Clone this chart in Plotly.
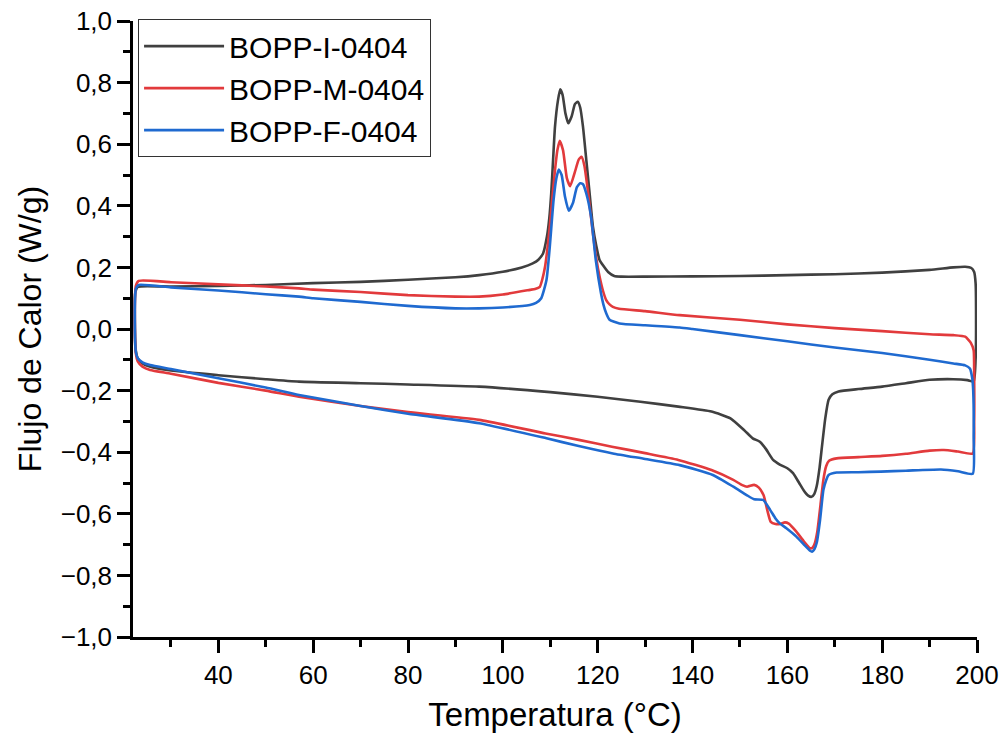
import plotly.graph_objects as go

# ---------------- data ----------------
names = ["BOPP-I-0404", "BOPP-M-0404", "BOPP-F-0404"]
colors = ["#404040", "#e23a3c", "#1f6ad0"]

temp_I = [23.0, 22.5, 22.4, 22.6, 23.0, 24.0, 25.5, 30, 40, 50, 57, 70, 80, 95, 110, 120, 129, 137, 144,
          148, 151, 152.7, 154.2, 155.5, 157, 158.4, 160, 161.2, 162.5, 163.5, 164.4, 165.1, 165.7, 166.2,
          166.8, 167.3, 168.0, 168.7, 169.5, 170.8, 175, 180, 185, 190, 195, 198, 199.3, 199.7, 199.8,
          199.7, 199.4, 198.8, 197.5, 195, 190, 180, 170, 160, 150, 140, 130, 125, 123.5, 122.2, 121.2,
          120.4, 119.7, 119, 118.3, 117.6, 116.9, 116.3, 115.8, 115.2, 114.5, 113.8, 113.2, 112.6, 112.1,
          111.6, 111, 110.6, 110.2, 109.8, 109.3, 108.5, 107.5, 106.3, 104, 100, 95, 90, 80, 70, 60, 50,
          40, 30, 23]
flow_I = [0.137, 0.12, 0.0, -0.07, -0.095, -0.112, -0.122, -0.135, -0.15, -0.163, -0.171, -0.176, -0.18,
          -0.187, -0.205, -0.22, -0.236, -0.252, -0.268, -0.29, -0.33, -0.355, -0.366, -0.39, -0.425,
          -0.44, -0.452, -0.468, -0.5, -0.525, -0.541, -0.545, -0.535, -0.51, -0.45, -0.382, -0.29, -0.23,
          -0.212, -0.203, -0.195, -0.187, -0.176, -0.165, -0.163, -0.166, -0.17, -0.1, 0.05, 0.15, 0.185,
          0.198, 0.202, 0.2, 0.192, 0.183, 0.178, 0.175, 0.172, 0.171, 0.17, 0.17, 0.172, 0.185, 0.205,
          0.224, 0.27, 0.332, 0.44, 0.549, 0.657, 0.72, 0.738, 0.73, 0.69, 0.668, 0.7, 0.76, 0.778, 0.74,
          0.657, 0.55, 0.44, 0.36, 0.3, 0.246, 0.225, 0.213, 0.2, 0.186, 0.175, 0.168, 0.16, 0.153, 0.149,
          0.143, 0.14, 0.138, 0.137]

temp_M = [23.2, 22.6, 22.4, 22.6, 23.0, 24.0, 25.6, 30, 40, 50, 57, 70, 80, 95, 109, 116, 123, 130, 137,
          144, 148.6, 150.5, 151.5, 153, 154, 155, 155.8, 156.5, 157.5, 158.5, 159.5, 160.3, 161.9, 163.5,
          164.8, 165.3, 165.8, 166.3, 167, 167.6, 168.2, 168.8, 170.4, 175, 180, 185, 190, 193, 196, 199.1,
          199.4, 199.4, 199.3, 198.7, 197.5, 195, 190, 180, 170, 160, 150, 137.3, 130, 124.5, 123.2,
          122.5, 121.8, 121.1, 120.4, 119.7, 119, 118, 117.2, 116.6, 116, 115.2, 114.2, 113.5, 112.7,
          112, 111.5, 111, 110.4, 109.9, 109.4, 108.9, 108.3, 107.8, 106.8, 105.7, 100, 95, 90, 80, 70,
          60, 57, 50, 40, 30, 23.2]
flow_M = [0.156, 0.14, 0.0, -0.08, -0.105, -0.122, -0.133, -0.145, -0.175, -0.2, -0.22, -0.25, -0.27,
          -0.295, -0.339, -0.36, -0.382, -0.403, -0.425, -0.458, -0.49, -0.507, -0.512, -0.506, -0.515,
          -0.54, -0.59, -0.626, -0.633, -0.633, -0.628, -0.632, -0.658, -0.69, -0.712, -0.71, -0.695,
          -0.66, -0.57, -0.49, -0.445, -0.428, -0.42, -0.416, -0.412, -0.405, -0.395, -0.393, -0.398,
          -0.404, -0.3, -0.15, -0.07, -0.045, -0.025, -0.02, -0.017, -0.007, 0.003, 0.015, 0.03, 0.045,
          0.058, 0.066, 0.072, 0.08, 0.094, 0.125, 0.17, 0.23, 0.31, 0.44, 0.53, 0.559, 0.55, 0.51, 0.464,
          0.49, 0.58, 0.611, 0.58, 0.516, 0.42, 0.332, 0.26, 0.202, 0.16, 0.137, 0.13, 0.127, 0.112, 0.105,
          0.105, 0.11, 0.12, 0.128, 0.132, 0.138, 0.145, 0.152, 0.156]

temp_F = [23.2, 22.6, 22.4, 22.6, 23.0, 24.0, 25.6, 30, 40, 50, 57, 70, 80, 95, 109.2, 116, 123.2, 130,
          137.3, 144.3, 148.6, 151.4, 153, 154.9, 156.4, 157.5, 158.4, 159.8, 161.9, 163.5, 164.8, 165.2,
          165.7, 166.2, 166.9, 167.6, 168.2, 168.7, 170.4, 175, 179.7, 185, 192.4, 196, 199.1, 199.3,
          199.2, 199, 198.5, 197.5, 195, 190, 180, 170, 160, 150, 140, 137.3, 130, 124.6, 122.5, 121.8,
          121.2, 120.7, 119.6, 118.6, 117.6, 116.9, 116.3, 115.6, 114.8, 113.9, 113.1, 112.4, 111.8,
          111.3, 110.7, 109.9, 109.2, 108.1, 107, 105.7, 100, 95, 90, 80, 70, 60, 57, 50, 40, 30, 23.2]
flow_F = [0.143, 0.13, 0.0, -0.075, -0.095, -0.108, -0.117, -0.13, -0.16, -0.19, -0.214, -0.25, -0.275,
          -0.306, -0.355, -0.38, -0.404, -0.422, -0.442, -0.474, -0.512, -0.539, -0.553, -0.555, -0.588,
          -0.615, -0.631, -0.647, -0.674, -0.7, -0.72, -0.723, -0.715, -0.694, -0.62, -0.523, -0.49,
          -0.474, -0.466, -0.465, -0.463, -0.46, -0.456, -0.462, -0.47, -0.35, -0.2, -0.16, -0.128,
          -0.118, -0.112, -0.1, -0.078, -0.06, -0.04, -0.02, 0.0, 0.005, 0.012, 0.018, 0.03, 0.051, 0.08,
          0.116, 0.224, 0.365, 0.44, 0.47, 0.473, 0.46, 0.41, 0.384, 0.43, 0.5, 0.518, 0.49, 0.419, 0.267,
          0.159, 0.1, 0.085, 0.078, 0.07, 0.067, 0.067, 0.075, 0.088, 0.1, 0.105, 0.113, 0.125, 0.135,
          0.143]

x_ticks = [40, 60, 80, 100, 120, 140, 160, 180, 200]
y_ticks = [-1.0, -0.8, -0.6, -0.4, -0.2, 0.0, 0.2, 0.4, 0.6, 0.8, 1.0]

# ---------------- figure ----------------
FONT = "Liberation Sans, Arial, sans-serif"
fig = go.Figure()
for name, color, t, f in [(names[0], colors[0], temp_I, flow_I),
                          (names[1], colors[1], temp_M, flow_M),
                          (names[2], colors[2], temp_F, flow_F)]:
    fig.add_trace(go.Scatter(x=t, y=f, mode="lines", name=name,
                             line=dict(color=color, width=2.6, shape="spline", smoothing=0.5)))

axis_common = dict(showline=True, linecolor="black", linewidth=2.5, ticks="outside",
                   tickwidth=2.5, ticklen=13, tickcolor="black", showgrid=False, zeroline=False,
                   mirror=False, tickfont=dict(family=FONT, size=26, color="black"))

fig.update_xaxes(range=[22, 200], tickvals=x_ticks, **axis_common,
                 minor=dict(ticks="outside", dtick=10, tick0=0, ticklen=7, tickwidth=2.5,
                            tickcolor="black", showgrid=False),
                 title=dict(text="Temperatura (°C)", font=dict(family=FONT, size=33, color="black"),
                            standoff=14))
fig.update_yaxes(range=[-1.0, 1.0], tickvals=y_ticks, tickformat=".1f", **axis_common,
                 minor=dict(ticks="outside", dtick=0.1, tick0=0, ticklen=7, tickwidth=2.5,
                            tickcolor="black", showgrid=False),
                 title=dict(text="Flujo de Calor (W/g)", font=dict(family=FONT, size=32, color="black"),
                            standoff=10))

fig.update_layout(
    width=1007, height=737,
    margin=dict(l=133, r=30, t=21, b=100, autoexpand=False),
    plot_bgcolor="white", paper_bgcolor="white",
    separators=",.",
    showlegend=True,
    legend=dict(x=0.006, y=1.003, xanchor="left", yanchor="top",
                bgcolor="white", bordercolor="#333333", borderwidth=1,
                font=dict(family=FONT, size=30, color="black"),
                itemwidth=80, tracegroupgap=0),
)

fig.write_html("out.html")
